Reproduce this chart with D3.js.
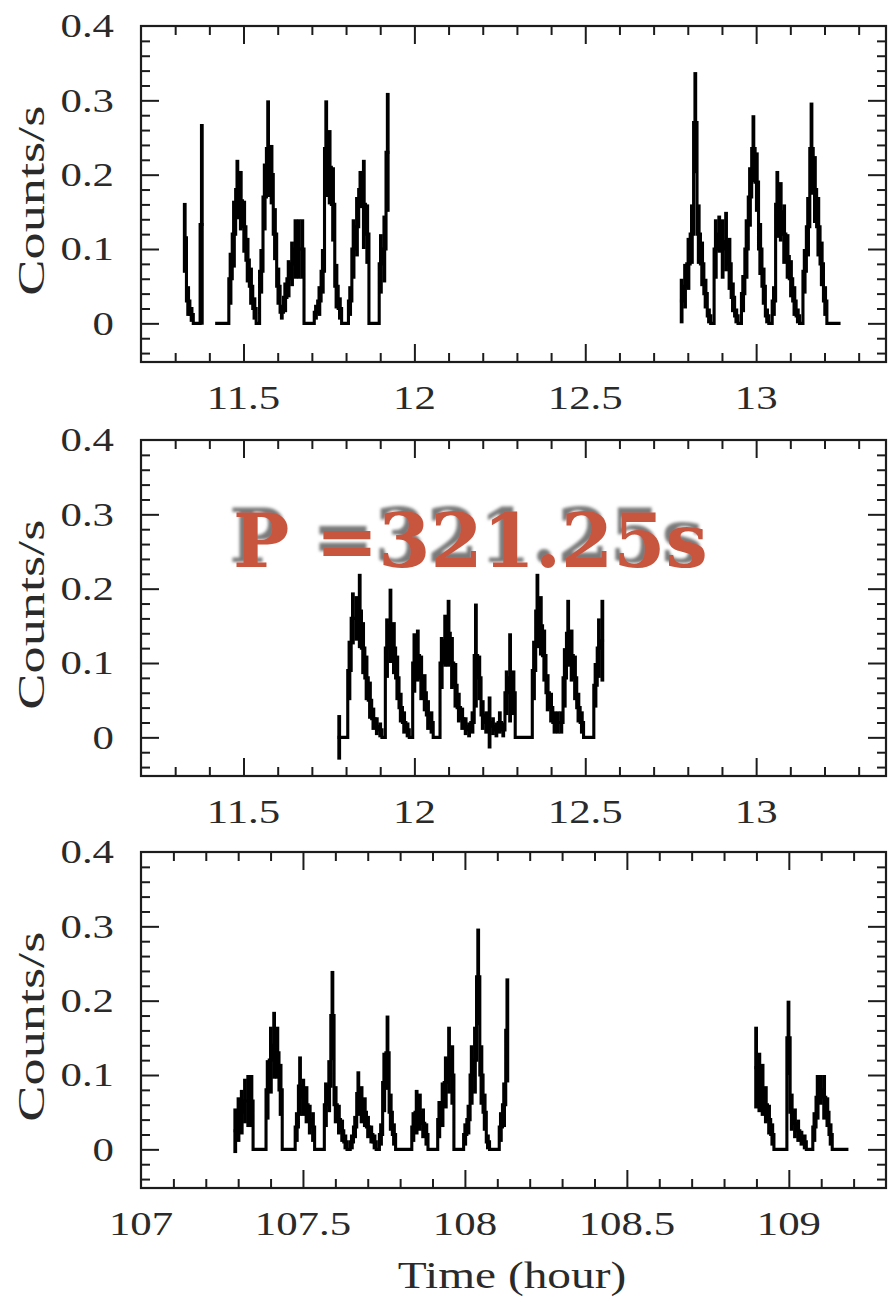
<!DOCTYPE html>
<html><head><meta charset="utf-8">
<script src="https://cdn.jsdelivr.net/npm/d3@7"></script>
<style>
html,body{margin:0;padding:0;background:#fff;}
svg{display:block;}
</style></head>
<body>
<svg id="chart" width="888" height="1298"></svg>
<script>
// ---- light-curve data (count rate per 0.01 h bin, with 1-sigma errors) ----
const binHours = 0.01;

// upper panel, first short stretch
const p1aStart = 11.323;
const p1aRate = [0.115, 0.03, 0.012, 0, 0, 0.133];
const p1aErr  = [0.047, 0.02, 0.01, 0, 0, 0.135];

// upper panel, second stretch
const p1bStart = 11.417;
const p1bRate = [0, 0, 0, 0, 0.06, 0.12, 0.18, 0.165, 0.13, 0.085,
                 0.05, 0.02, 0, 0.07, 0.17, 0.235, 0.2, 0.12, 0.05, 0.015,
                 0.035, 0.06, 0.08, 0.1, 0.1, 0.1, 0, 0, 0, 0.015,
                 0.03, 0.07, 0.235, 0.21, 0.16, 0.05, 0.02, 0, 0, 0.03,
                 0.1, 0.13, 0.18, 0.16, 0.12, 0, 0, 0, 0.08, 0.1, 0.23];
const p1bErr  = [0, 0, 0, 0, 0.035, 0.045, 0.04, 0.04, 0.035, 0.03,
                 0.025, 0.015, 0, 0.03, 0.045, 0.065, 0.04, 0.035, 0.025, 0.01,
                 0.02, 0.025, 0.03, 0.04, 0.04, 0.04, 0, 0, 0, 0.01,
                 0.02, 0.03, 0.065, 0.05, 0.05, 0.03, 0.015, 0, 0, 0.02,
                 0.04, 0.04, 0.025, 0.06, 0.04, 0, 0, 0, 0.04, 0.045, 0.08];

// upper panel, third stretch
const p1cStart = 12.777;
const p1cRate = [0.03, 0.05, 0.08, 0.12, 0.27, 0.12, 0.08, 0.04, 0.01, 0,
                 0.1, 0.12, 0.1, 0.11, 0.08, 0.035, 0.01, 0, 0.04, 0.1,
                 0.17, 0.235, 0.19, 0.1, 0.05, 0.01, 0, 0.03, 0.16, 0.15,
                 0.12, 0.09, 0.06, 0.03, 0.01, 0, 0.07, 0.13, 0.235, 0.18,
                 0.13, 0.08, 0.03, 0, 0, 0, 0];
const p1cErr  = [0.03, 0.03, 0.035, 0.04, 0.068, 0.04, 0.03, 0.02, 0.01, 0,
                 0.04, 0.025, 0.04, 0.04, 0.035, 0.02, 0.01, 0, 0.025, 0.04,
                 0.04, 0.045, 0.04, 0.035, 0.025, 0.01, 0, 0.02, 0.045, 0.04,
                 0.04, 0.03, 0.025, 0.02, 0.01, 0, 0.03, 0.04, 0.062, 0.045,
                 0.04, 0.03, 0.02, 0, 0, 0, 0];

// middle panel
const p2Start = 11.775;
const p2Rate = [0, 0, 0, 0.09, 0.16, 0.16, 0.17, 0.12, 0.08, 0.05,
                0.025, 0.015, 0.01, 0, 0.12, 0.15, 0.12, 0.08, 0.04, 0.02,
                0.01, 0, 0.1, 0.11, 0.08, 0.06, 0.03, 0.02, 0, 0,
                0.1, 0.13, 0.14, 0.1, 0.07, 0.04, 0.025, 0.015, 0.01, 0.02,
                0.11, 0.08, 0.03, 0.02, 0.02, 0.015, 0.01, 0.02, 0.01, 0.06,
                0.08, 0.06, 0, 0, 0, 0, 0, 0.09, 0.17, 0.15,
                0.11, 0.06, 0.04, 0.02, 0.02, 0.02, 0.08, 0.14, 0.11, 0.08,
                0.04, 0.02, 0, 0, 0, 0.07, 0.12, 0.13];
const p2Err  = [0.03, 0, 0, 0.04, 0.035, 0.03, 0.05, 0.035, 0.03, 0.025,
                0.015, 0.012, 0.01, 0, 0.04, 0.05, 0.035, 0.03, 0.02, 0.015,
                0.01, 0, 0.04, 0.035, 0.03, 0.025, 0.02, 0.015, 0, 0,
                0.035, 0.035, 0.045, 0.035, 0.03, 0.02, 0.015, 0.012, 0.01, 0.015,
                0.07, 0.03, 0.02, 0.015, 0.035, 0.012, 0.01, 0.015, 0.01, 0.03,
                0.06, 0.03, 0, 0, 0, 0, 0, 0.04, 0.05, 0.04,
                0.035, 0.025, 0.02, 0.015, 0.015, 0.015, 0.04, 0.045, 0.035, 0.03,
                0.02, 0.015, 0, 0, 0, 0.03, 0.04, 0.055];

// lower panel, first stretch
const p3aStart = 107.286;
const p3aRate = [0.025, 0.04, 0.05, 0.065, 0.065, 0.065, 0, 0, 0, 0,
                 0.08, 0.12, 0.14, 0.13, 0.08, 0, 0, 0, 0, 0.03,
                 0.085, 0.07, 0.06, 0.04, 0.03, 0, 0, 0, 0.06, 0.085,
                 0.18, 0.06, 0.04, 0.025, 0.01, 0, 0.01, 0.03, 0.075, 0.06,
                 0.05, 0.03, 0.02, 0.01, 0, 0.02, 0.09, 0.13, 0.05, 0.02,
                 0, 0, 0, 0, 0, 0.03, 0.05, 0.05, 0.035, 0.02,
                 0, 0, 0, 0.04, 0.06, 0.09, 0.12, 0.1, 0, 0,
                 0, 0.02, 0.04, 0.1, 0.12, 0.232, 0.1, 0.05, 0.01, 0,
                 0, 0, 0.03, 0.06, 0.16];
const p3aErr  = [0.03, 0.03, 0.03, 0.03, 0.035, 0.035, 0, 0, 0, 0,
                 0.04, 0.045, 0.045, 0.035, 0.035, 0, 0, 0, 0, 0.02,
                 0.04, 0.025, 0.025, 0.02, 0.02, 0, 0, 0, 0.03, 0.035,
                 0.06, 0.025, 0.02, 0.015, 0.01, 0, 0.01, 0.015, 0.03, 0.025,
                 0.02, 0.015, 0.012, 0.01, 0, 0.015, 0.04, 0.05, 0.025, 0.015,
                 0, 0, 0, 0, 0, 0.02, 0.03, 0.025, 0.02, 0.015,
                 0, 0, 0, 0.025, 0.03, 0.035, 0.045, 0.04, 0, 0,
                 0, 0.015, 0.02, 0.04, 0.045, 0.065, 0.04, 0.025, 0.01, 0,
                 0, 0, 0.02, 0.03, 0.07];

// lower panel, second stretch
const p3bStart = 108.894;
const p3bRate = [0.11, 0.09, 0.08, 0.06, 0.04, 0.02, 0, 0, 0, 0,
                 0.15, 0.05, 0.035, 0.025, 0.015, 0.01, 0, 0, 0.03, 0.07,
                 0.08, 0.07, 0.05, 0.02, 0, 0, 0, 0, 0];
const p3bErr  = [0.055, 0.04, 0.035, 0.025, 0.02, 0.015, 0, 0, 0, 0,
                 0.05, 0.025, 0.02, 0.015, 0.01, 0.01, 0, 0, 0.02, 0.03,
                 0.02, 0.03, 0.02, 0.015, 0, 0, 0, 0, 0];

// axes
const yDomain = [-0.052, 0.4];
const yTickLabels = [0, 0.1, 0.2, 0.3, 0.4];
const xDomainUpper = [11.2, 13.38];
const xDomainLower = [107, 109.3];
const xLabelsUpper = [11.5, 12, 12.5, 13];
const xLabelsLower = [107, 107.5, 108, 108.5, 109];
const yTitle = "Counts/s";
const xTitle = "Time (hour)";
const periodLabel = "P =321.25s";

// ---- drawing ----
const svg = d3.select("#chart");
const frameL = 141, frameR = 886, frameH = 336;
const ink = "#1c1c1c";
const textInk = "#2a2a2a";
const serif = "'Liberation Serif', 'Times New Roman', serif";

const defs = svg.append("defs");
// grey drop shadow up and to the left of the annotation
const shadow = defs.append("filter").attr("id", "shadow")
  .attr("x", "-5%").attr("y", "-20%").attr("width", "110%").attr("height", "140%");
shadow.append("feGaussianBlur").attr("in", "SourceAlpha").attr("stdDeviation", 1.6).attr("result", "blur");
shadow.append("feOffset").attr("in", "blur").attr("dx", -4).attr("dy", -5).attr("result", "off");
shadow.append("feFlood").attr("flood-color", "#7a7a7a").attr("result", "grey");
shadow.append("feComposite").attr("in", "grey").attr("in2", "off").attr("operator", "in").attr("result", "sh");
const merge = shadow.append("feMerge");
merge.append("feMergeNode").attr("in", "sh");
merge.append("feMergeNode").attr("in", "SourceGraphic");

const panels = [
  { top: 26,  xDomain: xDomainUpper, labels: xLabelsUpper,
    segs: [[p1aStart, p1aRate, p1aErr], [p1bStart, p1bRate, p1bErr], [p1cStart, p1cRate, p1cErr]] },
  { top: 440, xDomain: xDomainUpper, labels: xLabelsUpper,
    segs: [[p2Start, p2Rate, p2Err]] },
  { top: 852, xDomain: xDomainLower, labels: xLabelsLower,
    segs: [[p3aStart, p3aRate, p3aErr], [p3bStart, p3bRate, p3bErr]] }
];

function stretchedText(g, str, tx, ty, size, sx, anchor) {
  return g.append("text")
    .attr("transform", `translate(${tx},${ty}) scale(${sx},1)`)
    .attr("text-anchor", anchor)
    .attr("dominant-baseline", "central")
    .attr("font-family", serif)
    .attr("font-size", size)
    .attr("fill", textInk)
    .text(str);
}

panels.forEach((p, pi) => {
  const g = svg.append("g").attr("transform", `translate(0,${p.top})`);
  const x = d3.scaleLinear().domain(p.xDomain).range([frameL, frameR]);
  const y = d3.scaleLinear().domain(yDomain).range([frameH, 0]);

  const clipId = "clip" + pi;
  defs.append("clipPath").attr("id", clipId).append("rect")
    .attr("x", frameL).attr("y", 0).attr("width", frameR - frameL).attr("height", frameH);

  // tick positions
  const xTicks = d3.range(Math.ceil(p.xDomain[0] * 10 + 1e-6), Math.floor(p.xDomain[1] * 10 - 1e-6) + 1);
  const xMinor = xTicks.filter(i => i % 5 !== 0).map(i => i / 10);
  const xMajor = xTicks.filter(i => i % 5 === 0).map(i => i / 10);
  const yTicks = d3.range(Math.ceil(yDomain[0] * 50), Math.floor(yDomain[1] * 50 - 1e-6) + 1);
  const yMinor = yTicks.filter(i => i % 5 !== 0).map(i => i / 50);
  const yMajor = yTicks.filter(i => i % 5 === 0).map(i => i / 50);

  const axisStyle = sel => {
    sel.select(".domain").remove();
    sel.selectAll(".tick line").attr("stroke", ink).attr("stroke-width", 2);
    sel.selectAll(".tick text").remove();
  };
  [[xMinor, 9], [xMajor, 18]].forEach(([vals, len]) => {
    g.append("g").attr("transform", `translate(0,${frameH})`)
      .call(d3.axisBottom(x).tickValues(vals).tickSize(-len).tickSizeOuter(0)).call(axisStyle);
    g.append("g")
      .call(d3.axisTop(x).tickValues(vals).tickSize(-len).tickSizeOuter(0)).call(axisStyle);
  });
  [[yMinor, 9], [yMajor, 18]].forEach(([vals, len]) => {
    g.append("g").attr("transform", `translate(${frameL},0)`)
      .call(d3.axisLeft(y).tickValues(vals).tickSize(-len).tickSizeOuter(0)).call(axisStyle);
    g.append("g").attr("transform", `translate(${frameR},0)`)
      .call(d3.axisRight(y).tickValues(vals).tickSize(-len).tickSizeOuter(0)).call(axisStyle);
  });

  // frame
  g.append("rect").attr("x", frameL).attr("y", 0)
    .attr("width", frameR - frameL).attr("height", frameH)
    .attr("fill", "none").attr("stroke", ink).attr("stroke-width", 2.2);

  // tick labels
  yTickLabels.forEach(v => stretchedText(g, String(v), 114, y(v), 34, 1.26, "end"));
  p.labels.forEach(v => stretchedText(g, String(v), x(v), frameH + 36, 34, 1.26, "middle"));

  // y title
  g.append("text")
    .attr("transform", `translate(31,${y(0.165)}) rotate(-90)`)
    .attr("text-anchor", "middle").attr("dominant-baseline", "central")
    .attr("font-family", serif).attr("font-size", 38).attr("fill", textInk)
    .attr("textLength", 190).attr("lengthAdjust", "spacingAndGlyphs")
    .text(yTitle);

  // light curves: stepped rate plus vertical error bars at bin centres
  const data = g.append("g").attr("clip-path", `url(#${clipId})`);
  const line = d3.line().x(d => x(d[0])).y(d => y(d[1])).curve(d3.curveStepAfter);
  p.segs.forEach(([t0, rate, err]) => {
    const pts = rate.map((v, i) => [t0 + i * binHours, v]);
    pts.push([t0 + rate.length * binHours, rate[rate.length - 1]]);
    data.append("path").attr("d", line(pts))
      .attr("fill", "none").attr("stroke", "#000").attr("stroke-width", 3.1)
      .attr("stroke-linejoin", "miter");
    data.selectAll(null).data(rate.map((v, i) => [t0 + (i + 0.5) * binHours, v, err[i]]).filter(d => d[2] > 0))
      .join("line")
      .attr("x1", d => x(d[0])).attr("x2", d => x(d[0]))
      .attr("y1", d => y(d[1] - d[2])).attr("y2", d => y(d[1] + d[2]))
      .attr("stroke", "#000").attr("stroke-width", 3.8);
  });
});

// x title
stretchedText(svg, xTitle, 512, 1275, 37, 1.28, "middle");

// period annotation
svg.append("text").attr("x", 233).attr("y", 567)
  .attr("font-family", "'DejaVu Serif', serif").attr("font-weight", "bold")
  .attr("font-size", 75).attr("fill", "#c8553e").attr("filter", "url(#shadow)")
  .text(periodLabel);
</script>
</body></html>
